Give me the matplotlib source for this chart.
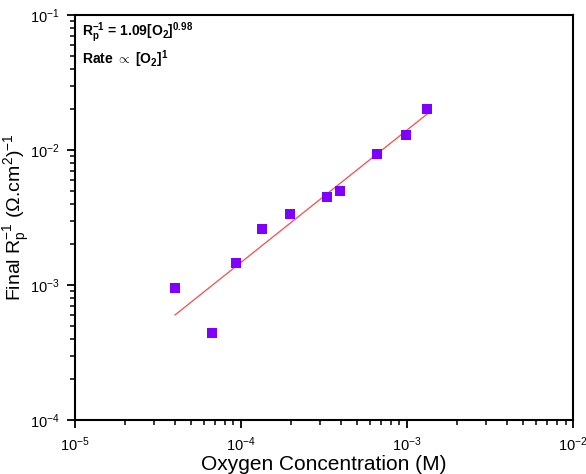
import numpy as np
import matplotlib
matplotlib.use('Agg')
import matplotlib.pyplot as plt
from matplotlib.ticker import LogLocator, NullFormatter

plt.rcParams['font.family'] = ['Liberation Sans', 'DejaVu Sans']
plt.rcParams['mathtext.fontset'] = 'custom'
plt.rcParams['mathtext.rm'] = 'Liberation Sans'
plt.rcParams['mathtext.it'] = 'Liberation Sans:italic'
plt.rcParams['mathtext.bf'] = 'Liberation Sans:bold'

# measured points
o2_conc = [4.0e-5, 6.7e-5, 9.3e-5, 1.34e-4, 1.97e-4, 3.3e-4, 3.95e-4, 6.6e-4, 9.9e-4, 1.32e-3]
final_rp_inv = [9.5e-4, 4.4e-4, 1.46e-3, 2.6e-3, 3.36e-3, 4.5e-3, 4.97e-3, 9.3e-3, 1.29e-2, 2.0e-2]

# power-law fit line endpoints
fit_x = [4.0e-5, 1.32e-3]
fit_y = [6.0e-4, 1.85e-2]

fig = plt.figure(figsize=(5.86, 4.74), dpi=100)
ax = fig.add_axes([0.128, 0.114, 0.850, 0.854])

ax.plot(fit_x, fit_y, color='#ff4a4a', lw=0.9, zorder=2)
ax.plot(o2_conc, final_rp_inv, 's', color='#7f00ff', markersize=7.2,
        markeredgewidth=0, zorder=3)

ax.set_xscale('log')
ax.set_yscale('log')
ax.set_xlim(1e-5, 1e-2)
ax.set_ylim(1e-4, 1e-1)

ax.xaxis.set_major_locator(LogLocator(base=10, numticks=10))
ax.yaxis.set_major_locator(LogLocator(base=10, numticks=10))
ax.xaxis.set_minor_locator(LogLocator(base=10, subs=np.arange(2, 10), numticks=20))
ax.yaxis.set_minor_locator(LogLocator(base=10, subs=np.arange(2, 10), numticks=20))
ax.xaxis.set_minor_formatter(NullFormatter())
ax.yaxis.set_minor_formatter(NullFormatter())

for s in ax.spines.values():
    s.set_linewidth(1.5)
ax.tick_params(which='major', direction='out', length=6, width=1.3, labelsize=10.5, pad=5)
ax.tick_params(which='minor', direction='out', length=3.5, width=1.1)
ax.tick_params(top=False, right=False)

ax.set_xlabel('Oxygen Concentration (M)', fontsize=15, labelpad=1)
ax.set_ylabel(r'Final R$_\mathregular{p}^\mathregular{-1}$ (Ω.cm$^\mathregular{2}$)$^\mathregular{-1}$',
              fontsize=14)
ax.yaxis.set_label_coords(-0.087, 0.5)

ax.text(0.014, 0.988,
        r'R$_\mathbf{p}^\mathbf{-1}$ = 1.09[O$_\mathbf{2}$]$^\mathbf{0.98}$' + '\n'
        + r'Rate $\propto$ [O$_\mathbf{2}$]$^\mathbf{1}$',
        transform=ax.transAxes, ha='left', va='top', fontsize=10,
        fontweight='bold', linespacing=1.25)

fig.savefig('out.png', dpi=100)
plt.close(fig)
